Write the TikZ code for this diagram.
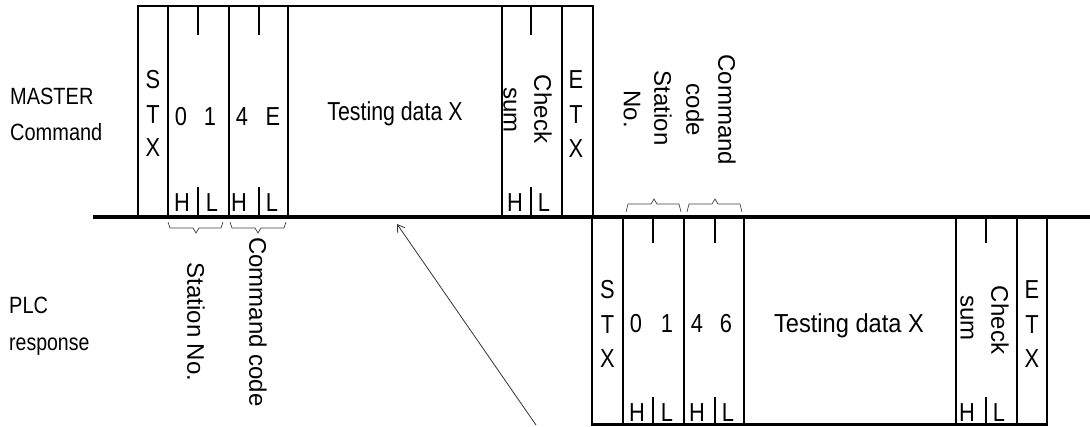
\documentclass[tikz,border=0pt]{standalone}
\usepackage{fontspec}
\setmainfont{Liberation Sans}
\usepackage{graphicx}
\usetikzlibrary{arrows.meta}
\newcommand{\narrowtxt}[2][0.84]{\scalebox{#1}[1]{#2}}
\begin{document}
\begin{tikzpicture}[x=1pt,y=-1pt,
  frame/.style={line width=2.2pt},
  baseline/.style={line width=4.5pt},
  brace/.style={line width=0.7pt, draw=black!75},
  txt/.style={inner sep=0pt, font=\fontsize{26}{30}\selectfont, anchor=base},
  lbl/.style={inner sep=0pt, font=\fontsize{23.5}{28}\selectfont, anchor=base west},
  rot/.style={inner sep=0pt, font=\fontsize{24}{28}\selectfont, rotate=-90},
  pointer/.style={line width=0.8pt, draw=black!80, -{Straight Barb[length=7pt,width=9pt]}}]
\useasboundingbox (0,0) rectangle (1090,426);

% ---------- master frame ----------
\draw[frame] (138,217) -- (138,6) -- (593,6) -- (593,217);
\foreach \x in {168,229,288,502,562} \draw[frame] (\x,6) -- (\x,217);
\foreach \x in {198,259,531} {
  \draw[frame] (\x,6) -- (\x,35);
  \draw[frame] (\x,187) -- (\x,217);
}
% ---------- response frame ----------
\draw[frame] (592,217) -- (592,424.5) -- (1047,424.5) -- (1047,217);
\foreach \x in {623,684,744,956,1017} \draw[frame] (\x,217) -- (\x,424.5);
\foreach \x in {653,715,986} {
  \draw[frame] (\x,217) -- (\x,243);
  \draw[frame] (\x,397) -- (\x,424.5);
}
% ---------- time line ----------
\draw[baseline] (93,217) -- (1090,217);

% ---------- left labels ----------
\node[lbl] (master) at (10,104) {\narrowtxt[0.85]{MASTER}};
\node[lbl] (command) at (10,140) {\narrowtxt[0.85]{Command}};
\node[lbl] (plc) at (9,313) {\narrowtxt[0.85]{PLC}};
\node[lbl] (response) at (9,350) {\narrowtxt[0.83]{response}};

% ---------- master content ----------
\node[txt] (ms) at (153,88) {\narrowtxt{S}};
\node[txt] (mt) at (153,123) {\narrowtxt{T}};
\node[txt] (mx) at (153,156) {\narrowtxt{X}};
\node[txt] (m0) at (181,125) {\narrowtxt{0}};
\node[txt] (m1) at (210,125) {\narrowtxt{1}};
\node[txt] (m4) at (242,125) {\narrowtxt{4}};
\node[txt] (mE) at (273,125) {\narrowtxt{E}};
\node[txt] (mh1) at (182,211) {\narrowtxt{H}};
\node[txt] (ml1) at (212,211) {\narrowtxt{L}};
\node[txt] (mh2) at (239,211) {\narrowtxt{H}};
\node[txt] (ml2) at (272,211) {\narrowtxt{L}};
\node[txt] (mdata) at (395,120) {\narrowtxt[0.82]{Testing data X}};
\node[rot] (mcheck) at (543,109) {Check};
\node[rot] (msum) at (510,110) {sum};
\node[txt] (mh3) at (515,211) {\narrowtxt{H}};
\node[txt] (ml3) at (544,211) {\narrowtxt{L}};
\node[txt] (me) at (576,88) {\narrowtxt{E}};
\node[txt] (met) at (576,123) {\narrowtxt{T}};
\node[txt] (mex) at (576,157) {\narrowtxt{X}};

% ---------- response content ----------
\node[txt] (rs) at (607.5,298) {\narrowtxt{S}};
\node[txt] (rt) at (607.5,333) {\narrowtxt{T}};
\node[txt] (rx) at (607.5,367) {\narrowtxt{X}};
\node[txt] (r0) at (636,332) {\narrowtxt{0}};
\node[txt] (r1) at (667,332) {\narrowtxt{1}};
\node[txt] (r4) at (697,332) {\narrowtxt{4}};
\node[txt] (r6) at (726,332) {\narrowtxt{6}};
\node[txt] (rh1) at (637,421) {\narrowtxt{H}};
\node[txt] (rl1) at (667,421) {\narrowtxt{L}};
\node[txt] (rh2) at (697,421) {\narrowtxt{H}};
\node[txt] (rl2) at (728,421) {\narrowtxt{L}};
\node[txt] (rdata) at (849,332) {\narrowtxt[0.91]{Testing data X}};
\node[rot] (rcheck) at (1000,320) {Check};
\node[rot] (rsum) at (967,318) {sum};
\node[txt] (rh3) at (967,421) {\narrowtxt{H}};
\node[txt] (rl3) at (999,421) {\narrowtxt{L}};
\node[txt] (re) at (1032,298) {\narrowtxt{E}};
\node[txt] (ret) at (1032,333) {\narrowtxt{T}};
\node[txt] (rex) at (1032,367) {\narrowtxt{X}};

% ---------- braces and their labels ----------
\draw[brace] (168,222) -- (170,228) -- (193,228) -- (196,233) -- (199,228) -- (221,228) -- (223,222);
\draw[brace] (230,222) -- (232,228) -- (255,228) -- (258,233) -- (261,228) -- (284,228) -- (286,222);
\node[rot] (bstation) at (196,322) {Station No.};
\node[rot] (bcommand) at (258,322) {Command code};

\draw[brace] (626,212) -- (628,204) -- (651,204) -- (654,199) -- (657,204) -- (679,204) -- (681,212);
\draw[brace] (687,212) -- (689,204) -- (712,204) -- (715,199) -- (718,204) -- (740,204) -- (742,212);
\node[rot] (tstation) at (663,108) {Station};
\node[rot] (tno) at (632,109) {No.};
\node[rot] (tcommand) at (727,110) {Command};
\node[rot] (tcode) at (695,110) {code};

% ---------- pointer ----------
\coordinate (pfrom) at (536,425);
\coordinate (pto) at (397,224);
\draw[pointer] (pfrom) -- (pto);
\end{tikzpicture}
\end{document}
